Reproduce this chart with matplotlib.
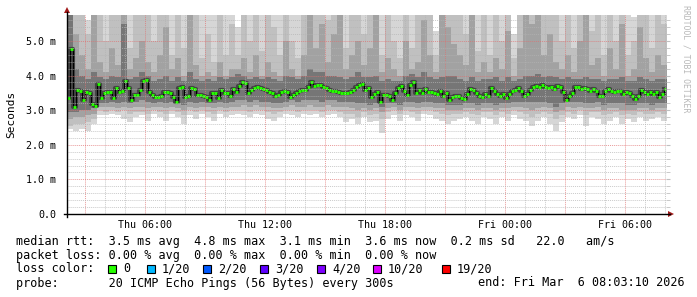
import numpy as np
import pandas as pd
import matplotlib
matplotlib.use("Agg")
import matplotlib.pyplot as plt
import matplotlib.dates as mdates
from matplotlib.patches import Rectangle, Polygon
from matplotlib.lines import Line2D

# median rtt (ms), one value every 9 minutes
median = [
    3.35, 4.77, 3.08, 3.58, 3.55, 3.30, 3.52, 3.50, 3.18, 3.12,
    3.76, 3.35, 3.49, 3.53, 3.53, 3.35, 3.64, 3.53, 3.55, 3.84,
    3.64, 3.30, 3.44, 3.44, 3.58, 3.84, 3.86, 3.53, 3.45, 3.38,
    3.38, 3.40, 3.52, 3.52, 3.50, 3.38, 3.24, 3.64, 3.66, 3.38,
    3.40, 3.64, 3.62, 3.44, 3.44, 3.40, 3.38, 3.30, 3.50, 3.50,
    3.34, 3.58, 3.50, 3.50, 3.40, 3.62, 3.53, 3.70, 3.82, 3.78,
    3.50, 3.58, 3.64, 3.67, 3.64, 3.62, 3.58, 3.52, 3.50, 3.40,
    3.45, 3.53, 3.55, 3.52, 3.38, 3.45, 3.50, 3.55, 3.58, 3.58,
    3.66, 3.82, 3.70, 3.72, 3.73, 3.67, 3.64, 3.58, 3.55, 3.55,
    3.52, 3.50, 3.50, 3.50, 3.52, 3.58, 3.67, 3.72, 3.76, 3.58,
    3.64, 3.38, 3.48, 3.53, 3.24, 3.44, 3.44, 3.40, 3.30, 3.50,
    3.64, 3.70, 3.55, 3.44, 3.73, 3.82, 3.49, 3.58, 3.50, 3.60,
    3.53, 3.52, 3.50, 3.46, 3.54, 3.40, 3.50, 3.30, 3.38, 3.40,
    3.42, 3.34, 3.32, 3.46, 3.60, 3.57, 3.50, 3.42, 3.38, 3.48,
    3.40, 3.64, 3.56, 3.46, 3.40, 3.46, 3.35, 3.48, 3.55, 3.57,
    3.64, 3.56, 3.42, 3.46, 3.58, 3.68, 3.69, 3.68, 3.72, 3.68,
    3.65, 3.68, 3.62, 3.70, 3.66, 3.52, 3.30, 3.40, 3.50, 3.66,
    3.68, 3.62, 3.65, 3.60, 3.55, 3.62, 3.55, 3.40, 3.40, 3.55,
    3.60, 3.55, 3.52, 3.56, 3.55, 3.48, 3.52, 3.50, 3.40, 3.32,
    3.42, 3.58, 3.53, 3.46, 3.52, 3.46, 3.52, 3.38, 3.48, 3.60,
]

# smoke envelopes (ms), one value every 18 minutes, outer (a) to inner (d)
hi_a = [
    6, 6, 6, 5.6, 6, 6, 6, 6, 6, 6,
    6, 6, 6, 6, 6, 6, 6, 6, 6, 6,
    6, 6, 6, 6, 6, 6, 6, 6, 5.4, 6,
    6, 6, 6, 6, 6, 6, 6, 6, 6, 6,
    6, 6, 6, 6, 6, 6, 6, 6, 6, 6,
    6, 6, 6, 6, 6, 6, 6, 6, 6, 6,
    6, 5.3, 6, 6, 6, 6, 6, 6, 6, 6,
    6, 6, 6, 6, 5.2, 6, 6, 6, 6, 6,
    6, 6, 6, 6, 6, 6, 6, 6, 6, 6,
    6, 6, 6, 6, 5.7, 6, 6, 6, 6, 6,
]
hi_b = [
    6, 6, 6, 5.2, 6, 6, 5.0, 6, 6, 6,
    4.8, 6, 6, 6, 5.0, 6, 6, 4.6, 6, 4.8,
    6, 6, 4.5, 5.2, 4.4, 6, 4.6, 5.5, 4.6, 6,
    5.0, 6, 4.7, 6, 5.4, 4.6, 6, 5.0, 4.5, 6,
    6, 6, 6, 5.6, 6, 6, 4.8, 6, 6, 5.2,
    6, 6, 4.6, 6, 5.0, 4.5, 6, 4.8, 6, 6,
    6, 4.6, 6, 6, 6, 6, 5.2, 6, 4.7, 6,
    4.6, 6, 5.0, 6, 4.5, 6, 6, 6, 6, 6,
    6, 6, 5.0, 6, 4.8, 6, 6, 5.3, 6, 4.6,
    6, 5.0, 6, 4.6, 5.0, 6, 6, 4.8, 6, 5.5,
]
hi_c = [
    6, 5.2, 4.6, 4.2, 6, 4.4, 4.1, 4.8, 4.3, 6,
    4.2, 4.5, 5.0, 4.4, 4.1, 4.6, 5.4, 4.2, 4.5, 4.0,
    6, 4.3, 4.0, 4.1, 4.0, 4.4, 4.0, 4.2, 4.2, 4.5,
    4.1, 4.6, 4.0, 4.4, 4.1, 4.0, 5.0, 4.2, 4.0, 4.6,
    6, 4.8, 5.5, 4.4, 5.2, 6, 4.2, 4.6, 5.0, 4.3,
    4.8, 6, 4.1, 4.5, 4.2, 4.0, 5.0, 4.2, 4.4, 5.6,
    4.6, 4.1, 6, 5.4, 4.9, 4.6, 4.3, 6, 4.1, 4.4,
    4.1, 4.5, 4.2, 5.3, 4.0, 4.8, 6, 5.5, 6, 4.6,
    5.2, 4.4, 4.2, 4.6, 4.1, 5.0, 6, 4.3, 4.5, 4.0,
    4.8, 4.2, 5.5, 4.0, 4.2, 5.4, 4.5, 4.1, 4.6, 4.3,
]
hi_d = [
    6, 4.2, 4.0, 3.9, 4.1, 3.95, 3.9, 4.0, 3.95, 5.5,
    3.9, 3.95, 4.1, 4.0, 3.85, 3.9, 4.0, 3.85, 3.95, 3.85,
    4.1, 3.9, 3.85, 3.9, 3.85, 3.95, 3.9, 3.95, 4.05, 4.0,
    3.9, 3.95, 3.9, 3.95, 3.9, 3.85, 4.0, 3.95, 3.9, 4.0,
    4.2, 4.1, 4.1, 4.0, 4.0, 3.95, 3.9, 3.95, 4.1, 3.95,
    3.95, 4.0, 3.85, 3.9, 3.85, 3.85, 4.0, 4.05, 3.95, 4.1,
    3.95, 3.9, 3.95, 4.0, 4.0, 3.9, 3.85, 3.95, 3.85, 3.9,
    3.9, 3.95, 3.85, 3.95, 3.85, 3.9, 4.0, 4.0, 4.05, 3.95,
    4.0, 3.95, 3.9, 3.95, 3.9, 3.9, 3.95, 3.9, 3.9, 3.85,
    3.9, 3.9, 3.95, 3.85, 3.85, 3.95, 3.9, 3.85, 3.9, 3.9,
]
lo_d = [
    2.95, 2.95, 3.0, 3.0, 3.05, 3.2, 3.2, 3.25, 3.2, 3.25,
    3.2, 3.25, 3.3, 3.25, 3.2, 3.25, 3.2, 3.25, 3.2, 3.15,
    3.25, 3.2, 3.25, 3.2, 3.2, 3.25, 3.2, 3.25, 3.3, 3.3,
    3.25, 3.3, 3.25, 3.25, 3.2, 3.2, 3.25, 3.3, 3.25, 3.3,
    3.3, 3.3, 3.25, 3.3, 3.3, 3.25, 3.25, 3.25, 3.2, 3.2,
    3.15, 3.2, 3.1, 3.2, 3.2, 3.15, 3.25, 3.25, 3.2, 3.25,
    3.25, 3.2, 3.2, 3.15, 3.15, 3.15, 3.2, 3.2, 3.15, 3.2,
    3.2, 3.15, 3.2, 3.2, 3.25, 3.25, 3.25, 3.25, 3.25, 3.25,
    3.2, 3.1, 3.2, 3.25, 3.25, 3.25, 3.2, 3.2, 3.25, 3.15,
    3.2, 3.2, 3.2, 3.15, 3.15, 3.2, 3.2, 3.15, 3.2, 3.2,
]
lo_c = [
    2.75, 2.8, 2.8, 2.85, 2.9, 3.1, 3.1, 3.1, 3.05, 3.1,
    3.05, 3.1, 3.1, 3.05, 3.1, 3.1, 3.05, 3.1, 3.05, 3.0,
    3.1, 3.05, 3.1, 3.1, 3.05, 3.1, 3.05, 3.1, 3.1, 3.15,
    3.1, 3.15, 3.1, 3.1, 3.05, 3.05, 3.1, 3.15, 3.1, 3.1,
    3.15, 3.1, 3.1, 3.15, 3.1, 3.1, 3.1, 3.05, 3.0, 3.05,
    3.0, 3.05, 2.95, 3.05, 3.1, 3.0, 3.1, 3.1, 3.05, 3.1,
    3.1, 3.05, 3.05, 3.0, 3.0, 3.0, 3.05, 3.05, 3.0, 3.05,
    3.05, 3.0, 3.05, 3.05, 3.1, 3.1, 3.05, 3.0, 3.05, 3.1,
    3.05, 2.95, 3.0, 3.1, 3.05, 3.1, 3.05, 3.05, 3.1, 3.0,
    3.05, 3.05, 3.0, 3.0, 3.0, 3.05, 3.05, 3.0, 3.05, 3.05,
]
lo_b = [
    2.55, 2.6, 2.6, 2.65, 2.75, 3.0, 2.95, 3.0, 2.95, 3.0,
    2.9, 2.95, 2.95, 2.9, 3.0, 2.95, 2.9, 3.0, 2.95, 2.85,
    3.0, 2.95, 3.0, 2.95, 2.9, 3.0, 2.95, 3.0, 3.0, 3.0,
    2.95, 3.0, 3.0, 2.95, 2.9, 2.95, 3.0, 3.0, 2.95, 3.0,
    3.0, 3.0, 2.95, 3.0, 3.0, 2.95, 2.9, 2.9, 2.8, 2.95,
    2.85, 2.9, 2.75, 2.95, 3.0, 2.9, 3.0, 2.95, 2.9, 3.0,
    3.0, 2.95, 2.9, 2.85, 2.9, 2.9, 2.95, 2.9, 2.85, 2.95,
    2.95, 2.85, 2.95, 2.9, 3.0, 2.95, 2.9, 2.8, 2.9, 2.95,
    2.9, 2.75, 2.85, 2.95, 2.9, 3.0, 2.85, 2.95, 2.95, 2.85,
    2.9, 2.95, 2.85, 2.9, 2.85, 2.95, 2.9, 2.9, 2.95, 2.9,
]
lo_a = [
    2.45, 2.4, 2.45, 2.4, 2.6, 2.85, 2.85, 2.9, 2.85, 2.75,
    2.65, 2.8, 2.85, 2.7, 2.9, 2.8, 2.7, 2.9, 2.8, 2.6,
    2.85, 2.75, 2.9, 2.8, 2.7, 2.9, 2.8, 2.85, 2.9, 2.85,
    2.8, 2.9, 2.85, 2.75, 2.7, 2.8, 2.9, 2.85, 2.8, 2.9,
    2.85, 2.9, 2.8, 2.85, 2.9, 2.8, 2.65, 2.75, 2.6, 2.8,
    2.65, 2.7, 2.35, 2.75, 2.85, 2.7, 2.85, 2.8, 2.7, 2.9,
    2.85, 2.75, 2.7, 2.6, 2.7, 2.75, 2.8, 2.7, 2.6, 2.8,
    2.75, 2.6, 2.8, 2.7, 2.85, 2.75, 2.7, 2.55, 2.7, 2.8,
    2.6, 2.4, 2.65, 2.8, 2.75, 2.85, 2.55, 2.8, 2.75, 2.6,
    2.7, 2.8, 2.6, 2.75, 2.65, 2.8, 2.7, 2.75, 2.8, 2.7,
]

y_ticks = [0, 1, 2, 3, 4, 5]
y_labels = ["0.0", "1.0 m", "2.0 m", "3.0 m", "4.0 m", "5.0 m"]
x_labels = ["", "Thu 06:00", "", "Thu 12:00", "", "Thu 18:00",
            "", "Fri 00:00", "", "Fri 06:00"]

loss_labels = ["0", "1/20", "2/20", "3/20", "4/20", "10/20", "19/20"]
loss_colors = ["#26ff00", "#00b8ff", "#0059ff", "#5e00ff", "#7e00ff", "#dd00ff", "#ff0000"]

t_start = pd.Timestamp("2026-03-05 02:07:30")
t_end = t_start + pd.Timedelta(minutes=599 * 3)
t_med = pd.date_range(t_start, periods=len(median), freq="9min")
t_smoke = pd.date_range(t_start, periods=len(hi_a) + 1, freq="18min")
x_ticks = pd.date_range("2026-03-05 03:00", periods=len(x_labels), freq="3h")

W, H = 697, 297
fx = lambda px: px / W
fy = lambda py: 1 - py / H

plt.rcParams["font.family"] = "DejaVu Sans Mono"
fig = plt.figure(figsize=(W / 100, H / 100), dpi=100)
fig.patch.set_facecolor("white")
ax = fig.add_axes([fx(67), fy(214), 599 / W, 199 / H])
ax.set_facecolor("white")

# smoke
def ext(a):
    return list(a) + [a[-1]]

bands = [(lo_a, hi_a, "#d6d6d6"), (lo_b, hi_b, "#c0c0c0"),
         (lo_c, hi_c, "#a2a2a2"), (lo_d, hi_d, "#767676")]
for lo, hi, col in bands:
    ax.fill_between(t_smoke, ext(lo), ext(hi), step="post", color=col, lw=0)

# median: dark core, black connector, green loss colour
ax.step(t_med, median, where="post", color="#444444", lw=3.0)
ax.step(t_med, median, where="post", color="black", lw=0.8)
ax.hlines(median, t_med, t_med + pd.Timedelta(minutes=9), color=loss_colors[0], lw=2.1)

ax.set_xlim(t_start, t_end)
ax.set_ylim(0, 5.75)

# grid
ax.set_yticks(y_ticks)
ax.set_yticklabels(y_labels)
ax.set_yticks(np.arange(0, 5.75, 0.2), minor=True)
ax.set_xticks(x_ticks)
ax.set_xticklabels(x_labels)
ax.xaxis.set_minor_locator(mdates.HourLocator())
ax.grid(True, which="minor", color="#b4b4b4", lw=0.7, ls=(0, (1, 1)), alpha=0.7)
ax.grid(True, which="major", color="#e07070", lw=0.7, ls=(0, (1, 1)), alpha=0.7)
ax.set_axisbelow(False)

ax.tick_params(axis="x", which="both", length=0, pad=4, labelsize=7.2, colors="black")
ax.tick_params(axis="y", which="both", left=False, right=True, length=3,
               color="#c0c0c0", direction="out", labelsize=7.2, pad=5)
ax.tick_params(axis="y", which="major", labelleft=True, labelright=False)
for s in ax.spines.values():
    s.set_visible(False)

# axes with arrows
fig.add_artist(Line2D([fx(67), fx(67)], [fy(217), fy(12)], color="black", lw=1.0))
fig.add_artist(Line2D([fx(64), fx(670)], [fy(214), fy(214)], color="black", lw=1.0))
fig.add_artist(Polygon([[fx(64), fy(13)], [fx(70), fy(13)], [fx(67), fy(7)]],
                       closed=True, color="#a01818", lw=0))
fig.add_artist(Polygon([[fx(668), fy(211)], [fx(668), fy(217)], [fx(674), fy(214)]],
                       closed=True, color="#a01818", lw=0))

fig.text(fx(11), fy(114), "Seconds", rotation=90, ha="center", va="center", fontsize=8)
fig.text(fx(686), fy(5), "RRDTOOL / TOBI OETIKER", rotation=270, ha="center", va="top",
         fontsize=5.9, color="#b8b8b8")

# legend block
fs = 8.5
fig.text(fx(16), fy(241),
         "median rtt:  3.5 ms avg  4.8 ms max  3.1 ms min  3.6 ms now  0.2 ms sd   22.0   am/s",
         fontsize=fs, va="center", ha="left")
fig.text(fx(16), fy(255), "packet loss: 0.00 % avg  0.00 % max  0.00 % min  0.00 % now",
         fontsize=fs, va="center", ha="left")
fig.text(fx(16), fy(269), "loss color:", fontsize=fs, va="center", ha="left")
box_x = [108, 147, 203, 260, 317, 373, 442]
for bx, lbl, col in zip(box_x, loss_labels, loss_colors):
    fig.add_artist(Rectangle((fx(bx), fy(273)), 8 / W, 8 / H, facecolor=col,
                             edgecolor="black", lw=0.8))
    fig.text(fx(bx + 15), fy(269), lbl, fontsize=fs, va="center", ha="left")
fig.text(fx(16), fy(283), "probe:       20 ICMP Echo Pings (56 Bytes) every 300s",
         fontsize=fs, va="center", ha="left")
fig.text(fx(478), fy(283), "end: Fri Mar  6 08:03:10 2026", fontsize=fs, va="center", ha="left")

fig.savefig("out.png", dpi=100)
